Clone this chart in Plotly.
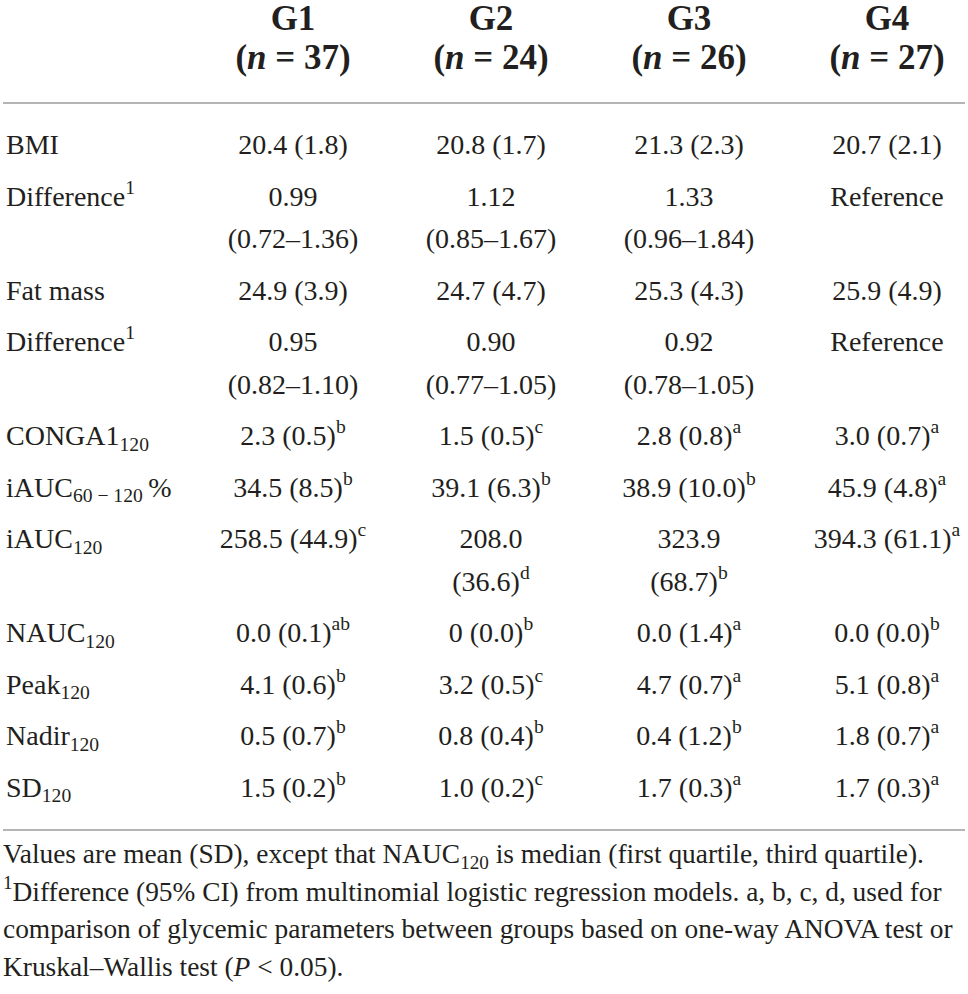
import plotly.graph_objects as go

# ---------------- data ----------------
groups = ["G1", "G2", "G3", "G4"]
group_n = [37, 24, 26, 27]

row_labels = [
    "BMI",
    "Difference<sup>1</sup>",
    "Fat mass",
    "Difference<sup>1</sup>",
    "CONGA1<sub>120</sub>",
    "iAUC<sub>60 − 120</sub>\u2009%",
    "iAUC<sub>120</sub>",
    "NAUC<sub>120</sub>",
    "Peak<sub>120</sub>",
    "Nadir<sub>120</sub>",
    "SD<sub>120</sub>",
]

# "|" marks where a cell wraps onto a second line
g1_values = ["20.4 (1.8)", "0.99|(0.72–1.36)", "24.9 (3.9)", "0.95|(0.82–1.10)",
             "2.3 (0.5)", "34.5 (8.5)", "258.5 (44.9)", "0.0 (0.1)",
             "4.1 (0.6)", "0.5 (0.7)", "1.5 (0.2)"]
g1_sup = ["", "", "", "", "b", "b", "c", "ab", "b", "b", "b"]

g2_values = ["20.8 (1.7)", "1.12|(0.85–1.67)", "24.7 (4.7)", "0.90|(0.77–1.05)",
             "1.5 (0.5)", "39.1 (6.3)", "208.0|(36.6)", "0 (0.0)",
             "3.2 (0.5)", "0.8 (0.4)", "1.0 (0.2)"]
g2_sup = ["", "", "", "", "c", "b", "d", "b", "c", "b", "c"]

g3_values = ["21.3 (2.3)", "1.33|(0.96–1.84)", "25.3 (4.3)", "0.92|(0.78–1.05)",
             "2.8 (0.8)", "38.9 (10.0)", "323.9|(68.7)", "0.0 (1.4)",
             "4.7 (0.7)", "0.4 (1.2)", "1.7 (0.3)"]
g3_sup = ["", "", "", "", "a", "b", "b", "a", "a", "b", "a"]

g4_values = ["20.7 (2.1)", "Reference", "25.9 (4.9)", "Reference",
             "3.0 (0.7)", "45.9 (4.8)", "394.3 (61.1)", "0.0 (0.0)",
             "5.1 (0.8)", "1.8 (0.7)", "1.7 (0.3)"]
g4_sup = ["", "", "", "", "a", "a", "a", "b", "a", "a", "a"]

footnote_lines = [
    "Values are mean (SD), except that NAUC<sub>120</sub> is median (first quartile, third quartile).",
    "<sup>1</sup>Difference (95% CI) from multinomial logistic regression models. a, b, c, d, used for",
    "comparison of glycemic parameters between groups based on one-way ANOVA test or",
    "Kruskal–Wallis test (<i>P</i> &lt; 0.05).",
]

# ---------------- layout / style ----------------
W, H = 968, 994
TXT = "#231f20"
RULE = "#b4b4b4"
SERIF = "Liberation Serif, Times New Roman, serif"
BODY = 28
HEAD = 35
FOOT = 27.4

col_x = [293, 491, 689, 887]
label_x = 6
head_y = [21, 60]
first_row_y = 147
row_step = 51.5
wrap_step = 42.5
foot_y0, foot_step = 856, 37.7
rule_y = [103, 830]

columns = [(g1_values, g1_sup), (g2_values, g2_sup), (g3_values, g3_sup), (g4_values, g4_sup)]

# row positions derived from how many lines each row needs
n_lines = [max(len(vals[i].split("|")) for vals, _ in columns) for i in range(len(row_labels))]
row_y = []
y = first_row_y
for nl in n_lines:
    row_y.append(y)
    y += row_step + wrap_step * (nl - 1)

fig = go.Figure()

common = dict(mode="text", hoverinfo="skip", cliponaxis=False)

# header
fig.add_trace(go.Scatter(
    x=col_x, y=[head_y[0]] * len(groups),
    text=[f"<b>{g}</b>" for g in groups], textposition="middle center",
    textfont=dict(family=SERIF, size=HEAD, color=TXT), **common))
fig.add_trace(go.Scatter(
    x=col_x, y=[head_y[1]] * len(groups),
    text=[f"<b>(<i>n</i> = {n})</b>" for n in group_n], textposition="middle center",
    textfont=dict(family=SERIF, size=HEAD, color=TXT), **common))

# row labels
fig.add_trace(go.Scatter(
    x=[label_x] * len(row_labels), y=row_y,
    text=row_labels, textposition="middle right",
    textfont=dict(family=SERIF, size=BODY, color=TXT), **common))

# cells
for cx, (vals, sups) in zip(col_x, columns):
    xs, ys, ts = [], [], []
    for i, (v, s) in enumerate(zip(vals, sups)):
        parts = v.split("|")
        for j, p in enumerate(parts):
            t = p
            if j == len(parts) - 1 and s:
                t = f"{p}<sup>{s}</sup>"
            xs.append(cx)
            ys.append(row_y[i] + j * wrap_step)
            ts.append(t)
    fig.add_trace(go.Scatter(
        x=xs, y=ys, text=ts, textposition="middle center",
        textfont=dict(family=SERIF, size=BODY, color=TXT), **common))

# footnote
fig.add_trace(go.Scatter(
    x=[label_x - 3] * len(footnote_lines),
    y=[foot_y0 + k * foot_step for k in range(len(footnote_lines))],
    text=footnote_lines, textposition="middle right",
    textfont=dict(family=SERIF, size=FOOT, color=TXT), **common))

for ry in rule_y:
    fig.add_shape(type="line", x0=3, x1=965, y0=ry, y1=ry, xref="x", yref="y",
                  line=dict(color=RULE, width=2))

fig.update_layout(
    width=W, height=H, margin=dict(l=0, r=0, t=0, b=0),
    paper_bgcolor="white", plot_bgcolor="white", showlegend=False,
    xaxis=dict(range=[0, W], visible=False, fixedrange=True),
    yaxis=dict(range=[H, 0], visible=False, fixedrange=True),
)

# remove the browser's default page margin so the figure sits at the window's corner
fig.write_html("out.html", config={"displayModeBar": False},
               post_script="document.body.style.margin='0px';")
